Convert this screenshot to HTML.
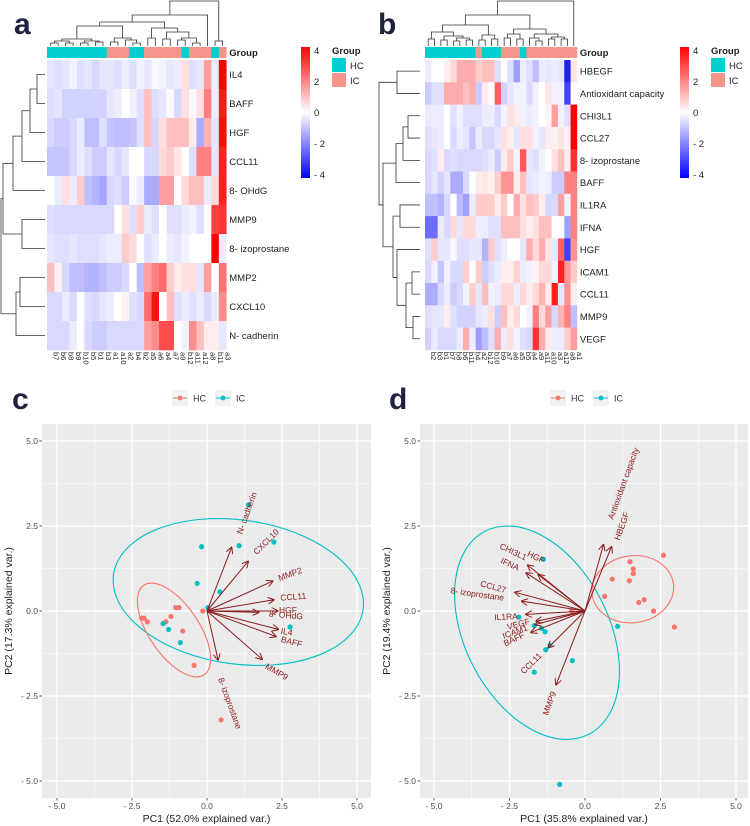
<!DOCTYPE html>
<html><head><meta charset="utf-8"><style>
html,body{margin:0;padding:0;background:#fff;}
svg{display:block;font-family:"Liberation Sans",Arial,sans-serif;}
</style></head><body>
<svg id="fig" width="750" height="826" viewBox="0 0 750 826" xmlns="http://www.w3.org/2000/svg">
<defs>
<marker id="arr" viewBox="0 0 10 10" refX="9" refY="5" markerWidth="7" markerHeight="7" orient="auto-start-reverse" markerUnits="userSpaceOnUse">
<path d="M0,0 L10,5 L0,10" fill="none" stroke="#8B1A1A" stroke-width="1.4"/></marker>
<linearGradient id="cbar" x1="0" y1="0" x2="0" y2="1">
<stop offset="0" stop-color="#ff0000"/><stop offset="0.5" stop-color="#ffffff"/><stop offset="1" stop-color="#0000ff"/></linearGradient>
</defs>
<g id="root"></g>
</svg>
<script>
// ---------- DATA ----------
const rowsA = ["IL4","BAFF","HGF","CCL11","8- OHdG","MMP9","8- izoprostane","MMP2","CXCL10","N- cadherin"];
const colsA = ["b7","b6","b8","b9","b10","b5","b1","b3","a1","a10","a2","b4","b2","a5","a6","a4","a7","a9","b12","a11","a12","a8","b11","a3"];
const groupA = ["HC","HC","HC","HC","HC","HC","HC","HC","IC","IC","IC","HC","HC","IC","IC","IC","IC","IC","HC","IC","IC","IC","HC","IC"];
const valsA = [
[-.4,-.5,-.4,-.2,-.5,-.4,-.6,-.4,-.4,-.5,-.3,-.5,-.2,-.4,-.1,-.2,-.4,-.3,.5,-.5,-.4,1.5,-.3,4],
[-.5,-.4,-.7,-.7,-.7,-.7,-.7,-.7,-.4,-.3,0,-.2,-.5,1,-.5,-.4,-.1,-.6,.5,-.1,.5,2,-.3,3.6],
[-.6,-.8,-.8,-.6,-.3,-1,-1,-.5,-.9,-1,-1,-.9,-.5,1,-.6,.5,1,1,1,.3,-1.3,1.2,-.4,3.8],
[-.9,-.9,-.9,-.6,-.3,-.5,-.8,-.8,-.4,-.6,-.4,0,0,-.6,-.6,.6,.8,.4,0,-.5,2,2,-.4,3.5],
[0,-.3,.5,-.3,.8,-1,-1.2,-1.4,-.6,-.5,-.8,-.1,-.3,-1.3,-1.3,1.5,1.5,0,.6,1,1,-.3,.6,3.5],
[-.5,-.6,-.6,-.6,-.6,-.6,-.6,-.6,-.6,0,.5,-.5,.8,-.3,-.5,0,-.5,-.5,-.3,-.2,-.5,0,3,3.2],
[-.4,-.5,-.5,-.4,-.5,-.5,-.5,-.4,-.3,-.3,.8,.6,0,-.5,-.3,0,-.3,-.4,-.2,0,0,0,4,-.3],
[1,.2,-.6,-1,-1,-1.2,-1.2,-1,-.8,-.8,-.6,0,-1,1.5,2,2.3,.8,.3,.5,.5,-.4,1.5,0,2.2],
[-.6,-.6,-.3,-.6,0,-.5,-.6,-.4,-.3,0,.2,-.5,-.6,2.3,3.7,0,1,-.5,-.3,-.5,-.3,-.6,-.3,1.8],
[-.6,-.6,-.6,-.3,0,-.6,-.8,-.8,-.6,-.6,-.6,-.6,-.6,1.5,1.8,2.8,2.8,0,-.2,1.8,1,.3,.3,-.4]];
const rowsB = ["HBEGF","Antioxidant capacity","CHI3L1","CCL27","8- izoprostane","BAFF","IL1RA","IFNA","HGF","ICAM1","CCL11","MMP9","VEGF"];
const colsB = ["b2","b3","b1","b7","b8","b6","b11","b4","a2","b12","b10","b9","a7","a6","a5","b5","a4","a9","a11","a10","a3","a12","a8","a1"];
const groupB = ["HC","HC","HC","HC","HC","HC","HC","HC","IC","HC","HC","HC","IC","IC","IC","HC","IC","IC","IC","IC","IC","IC","IC","IC"];
const valsB = [
[-.3,0,0,.3,.6,1.3,1.3,1.3,.8,1,1,-.5,0,-.5,-1.5,-.3,-.5,-1,-.3,-.4,-.3,-.4,-3.5,.4],
[-.8,-.5,-.5,1.3,1.3,1.3,1,1.3,-.8,.3,0,2.5,-.7,-.4,-.2,-.2,-.6,-.2,0,.4,-.2,-.2,-3,0],
[-.3,-.3,-.3,0,-.5,-.2,-.5,-.5,-.5,-.3,-.3,-.6,-.2,.5,.3,-.2,-.3,-.2,0,.2,1.5,-.2,-.5,4],
[-.5,-.4,-.3,0,-.6,-.3,-.4,-.9,-.3,-.6,-.6,-.4,.5,.3,-.4,.5,.5,-.2,-.4,.3,.2,.4,.2,4],
[-.6,-.5,.3,-.6,-.5,-.6,-.6,-.6,-.6,-.5,-.3,-.8,.3,.8,-.2,2.6,-.4,-.5,-.2,0,.5,1,.3,3.2],
[-.6,-.4,-.7,-.4,-1.3,-1.3,-.6,0,.3,.4,.2,.8,1.7,1.7,.3,1,-.4,-.3,-.2,-.3,-.8,-.8,2,2],
[-1,-1,-1.2,-.6,0,-1,-1.5,-.3,.8,.8,.8,.3,.8,0,1.3,.5,1,.8,.3,-.6,-.6,1.5,-.2,2],
[-2.3,-2.3,-.3,-.6,.6,-.4,.6,.6,-.3,-.3,-.5,-.5,1,1,1,.5,.3,.5,1,1,0,0,-1.5,2],
[-.5,.8,-.4,-.4,-.1,-.5,-.5,-.4,-.4,-1.2,.8,-.5,-.3,0,0,-.4,1.3,.6,1.3,.4,-.4,2.5,-3,1.7],
[-.6,-.2,-.9,-.2,-.6,-.6,.8,0,.8,-.8,-.5,-.3,.3,.3,.7,-.3,-.2,.2,.6,.6,-.2,3.5,1.6,.8],
[-1.3,-1.3,-.6,-.3,-.8,-.6,-.2,.8,-.4,1,-.2,-.3,.6,.6,-.3,.6,.3,.6,1.2,.3,3.5,-.4,1.7,.3],
[-.5,-.4,-.4,.3,-.5,-.7,-.7,-.7,-.4,-.3,.5,-.8,1,.3,.6,0,-.2,2,.6,1.5,-.6,1.2,2,-1],
[-.7,-.3,-.6,-.6,-.6,-.3,1.3,-.3,-1.5,-1,-.5,1.3,-.3,.5,-.2,-.5,-.6,3.2,1.3,.3,-.3,-.3,.8,1.5]];
const legendTicks = [4,2,0,-2,-4];
const pcaTicks = [-5,-2.5,0,2.5,5];
// PCA c
const cHCx = [-0.14,-1.04,-0.93,-1.2,-1.37,-1.46,-2.18,-2.1,-1.99,-0.81,-0.43,0.47];
const cHCy = [0,0.1,0.1,-0.16,-0.31,-0.37,-0.21,-0.21,-0.32,-0.59,-1.6,-3.2];
const cICx = [1.38,-0.18,1.07,2.23,-0.33,0.43,0.03,2.77,-1.46,-1.28,-0.89];
const cICy = [3.12,1.89,1.92,2.03,0.81,0.56,0.1,-0.47,-0.37,-0.54,-0.93];
const cVars = ["N- cadherin","CXCL10","MMP2","CCL11","HGF","8- OHdG","IL4","BAFF","MMP9","8- izoprostane"];
const cVarX = [0.82,1.37,2.19,2.23,2.36,1.72,2.38,2.3,1.84,0.37];
const cVarY = [1.87,1.46,0.88,0.33,0,-0.04,-0.54,-0.75,-1.42,-1.44];
// PCA d
const dHCx = [2.6,1.49,1.6,1.6,0.9,1.47,0.65,1.96,1.78,2.27,2.96,-0.44];
const dHCy = [1.64,1.45,1.24,1.1,0.94,0.89,0.43,0.33,0.25,0,-0.47,0];
const dICx = [-1.38,-2.19,-1.68,-1.44,-1.32,-1.16,-1.3,1.08,-0.42,-1.68,-0.84];
const dICy = [1.52,-0.18,-0.43,-0.51,-0.61,-1.01,-1.14,-0.45,-1.46,-1.8,-5.1];
const dVars = ["Antioxidant capacity","HBEGF","CHI3L1","IFNA","HGF","CCL27","8- izoprostane","IL1RA","VEGF","ICAM1","BAFF","CCL11","MMP9"];
const dVarX = [0.61,0.88,-1.9,-1.95,-1.55,-2.32,-2.1,-1.96,-1.62,-1.65,-1.79,-1.22,-0.96];
const dVarY = [1.95,1.89,1.35,1.12,1.07,0.55,0.29,-0.1,-0.3,-0.4,-0.63,-1.08,-2.17];

// ---------- HELPERS ----------
const NS="http://www.w3.org/2000/svg";
const root=document.getElementById('root');
function mk(tag,attrs,parent){const e=document.createElementNS(NS,tag);for(const k in attrs)e.setAttribute(k,attrs[k]);(parent||root).appendChild(e);return e;}
function txt(s,attrs,parent){const e=mk('text',attrs,parent);e.textContent=s;return e;}
function heat(v){const t=Math.min(1,Math.abs(v)/4);const c=Math.round(255*(1-t));return v>=0?`rgb(255,${c},${c})`:`rgb(${c},${c},255)`;}
const GC={HC:"#00CED1",IC:"#F4948A"};

function heatmap(cfg){
  const {x0,y0,cw,rh,rows,cols,groups,vals,name}=cfg;
  const g=mk('g',{});
  
  
  groups.forEach((gr,i)=>{const r=mk('rect',{x:x0+i*cw,y:y0-13,width:cw+0.3,height:11,fill:GC[gr]},g);
    
    });
  const gt=txt('Group',{x:x0+cols.length*cw+3,y:y0-4,'font-size':9.5,'font-weight':'bold',fill:'#222'},g);
  
  
  vals.forEach((row,r)=>row.forEach((v,c)=>{const e=mk('rect',{x:x0+c*cw,y:y0+r*rh,width:cw+0.3,height:rh+0.3,fill:heat(v)},g);
    
    }));
  rows.forEach((s,r)=>{const e=txt(s,{x:x0+cols.length*cw+3,y:y0+r*rh+rh/2+3.5,'font-size':9.5,fill:'#222'},g);
    
    });
  cols.forEach((s,c)=>{const cx=x0+c*cw+cw/2+3;const yy=y0+rows.length*rh+2;
    const e=txt(s,{x:cx,y:yy,'font-size':7.5,fill:'#222',transform:`rotate(90 ${cx} ${yy})`},g);
    
    });
}
// tree: nodes [left,right,h] ; leaves numbers
function tree(node,pos,hpos,horizontal,g,leafH){
  if(typeof node==='number') return {p:pos(node),h:leafH};
  const a=tree(node[0],pos,hpos,horizontal,g,leafH), b=tree(node[1],pos,hpos,horizontal,g,leafH);
  const h=hpos(node[2]);
  let d;
  if(!horizontal) d=`M${a.p},${a.h} V${h} H${b.p} V${b.h}`;
  else d=`M${a.h},${a.p} H${h} V${b.p} H${b.h}`;
  mk('path',{d,fill:'none',stroke:'#333','stroke-width':0.8},g);
  return {p:(a.p+b.p)/2,h};
}
function colorbar(x,y,name){
  const g=mk('g',{});
  
  
  mk('rect',{x,y,width:9,height:131,fill:'url(#cbar)'},g);
  legendTicks.forEach(t=>{const yy=y+65.5-t*15.5;
    txt(t<0?'- '+(-t):String(t),{x:x+13,y:yy+3.5,'font-size':9.5,fill:'#222'},g);});
  const lx=x+31;
  txt('Group',{x:lx,y:y+7,'font-size':9.5,'font-weight':'bold',fill:'#222'},g);
  mk('rect',{x:lx,y:y+11,width:14,height:14,fill:GC.HC},g);
  mk('rect',{x:lx,y:y+26,width:14,height:14,fill:GC.IC},g);
  txt('HC',{x:lx+18,y:y+22,'font-size':9.5,fill:'#222'},g);
  txt('IC',{x:lx+18,y:y+37,'font-size':9.5,fill:'#222'},g);
}
function panelLetter(s,x,y){const e=txt(s,{x,y,'font-size':30,'font-weight':'bold',fill:'#1f2340'});
  
  }

// ---------- PANEL A ----------
panelLetter('a',14,34);
heatmap({x0:47,y0:60,cw:7.47,rh:29,rows:rowsA,cols:colsA,groups:groupA,vals:valsA,name:'heatmap-a'});
{const g=mk('g',{});
 const L1=[[[[0,1,42],[2,3,42],40],[[4,5,42],[6,7,41],40],38],[[8,9,41],[10,[11,12,42],39],37],25];
 const R1=[[13,14,37],[[15,16,38],[[17,18,39],[19,20,42],37],31],27];
 const T=[[[L1,R1,21],21,14],[22,23,40],0];
 tree(T,i=>47+i*7.47+3.7,h=>h+1,false,g,46);}
{const g=mk('g',{});
 const T=[[[[[[0,1,37],2,30],3,22],4,13],[5,6,22],3],[[7,8,20],9,16],1];
 tree(T,i=>60+i*29+14.5,h=>h,true,g,45);}
colorbar(301,47,'color-legend-a');

// ---------- PANEL B ----------
panelLetter('b',378,34);
heatmap({x0:425,y0:60,cw:6.33,rh:22.3,rows:rowsB,cols:colsB,groups:groupB,vals:valsB,name:'heatmap-b'});
{const g=mk('g',{});
 const L=[[[0,1,38],[[2,3,39],[[4,5,40],[6,7,39],37],35],31],[[8,9,39],[10,11,38],34],24];
 const R=[[[12,13,37],[14,15,38],33],[[16,[17,18,40],37],[[19,20,38],[21,22,38],36],33],28];
 const T=[[L,R,14],23,0];
 tree(T,i=>425+i*6.33+3.2,h=>h+1,false,g,46);}
{const g=mk('g',{});
 const T=[[0,1,22],[[[[2,3,33],4,28],5,21],[[[6,7,25],[8,[9,[10,[11,12,38],31],27],22],18],[]],4],1];
 // simplify: replace empty with structure
 const T2=[[0,1,22],[[[[2,3,33],4,28],5,21],[[6,7,25],[8,[[9,10,37],[11,12,38],31],22],18],8],4];
 tree(T2,i=>60+i*22.3+11.15,h=>375+h,true,g,420);}
colorbar(680,47,'color-legend-b');

// ---------- PCA ----------
function pca(cfg){
  const {name,left,right,x0,ux,xtitle,ytitle,hcx,hcy,icx,icy,vars,vx,vy,labels,ellipses,legendX,letter,letterX}=cfg;
  const top=424,bottom=798,y0=611,uy=34;
  const sx=v=>x0+ux*v, sy=v=>y0-uy*v;
  panelLetter(letter,letterX,409);
  const g=mk('g',{});
  
  
  mk('rect',{x:left,y:top,width:right-left,height:bottom-top,fill:'#EBEBEB'},g);
  const minor=[-6.25,-3.75,-1.25,1.25,3.75,6.25];
  minor.forEach(v=>{if(sx(v)>left&&sx(v)<right)mk('line',{x1:sx(v),x2:sx(v),y1:top,y2:bottom,stroke:'#fff','stroke-width':0.6},g);
    if(sy(v)>top&&sy(v)<bottom)mk('line',{y1:sy(v),y2:sy(v),x1:left,x2:right,stroke:'#fff','stroke-width':0.6},g);});
  pcaTicks.forEach(v=>{mk('line',{x1:sx(v),x2:sx(v),y1:top,y2:bottom,stroke:'#fff','stroke-width':1.2},g);
    mk('line',{y1:sy(v),y2:sy(v),x1:left,x2:right,stroke:'#fff','stroke-width':1.2},g);
    const lab=v.toFixed(1).replace('-','- ');
    const tx=txt(lab,{x:sx(v),y:bottom+11,'font-size':8.5,'text-anchor':'middle',fill:'#4d4d4d'},g);
    
    
    const ty=txt(lab,{x:left-4,y:sy(v)+3,'font-size':8.5,'text-anchor':'end',fill:'#4d4d4d'},g);
    
    
    mk('line',{x1:left-2.5,x2:left,y1:sy(v),y2:sy(v),stroke:'#333','stroke-width':0.8},g);
    mk('line',{x1:sx(v),x2:sx(v),y1:bottom,y2:bottom+2.5,stroke:'#333','stroke-width':0.8},g);});
  const xt=txt(xtitle,{x:(left+right)/2,y:822,'font-size':10.5,'text-anchor':'middle',fill:'#222'},g);
  
  
  const yx=left-30;
  const yt=txt(ytitle,{x:yx,y:y0,'font-size':10.5,'text-anchor':'middle',fill:'#222',transform:`rotate(-90 ${yx} ${y0})`},g);
  
  
  ellipses.forEach(e=>{const el=mk('ellipse',{cx:e.cx,cy:e.cy,rx:e.rx,ry:e.ry,transform:`rotate(${e.a} ${e.cx} ${e.cy})`,fill:'none',stroke:e.c,'stroke-width':1.1},g);
    
    });
  hcx.forEach((v,i)=>{const p=mk('circle',{cx:sx(v),cy:sy(hcy[i]),r:2.6,fill:'#F8766D'},g);
    
    });
  icx.forEach((v,i)=>{const p=mk('circle',{cx:sx(v),cy:sy(icy[i]),r:2.6,fill:'#00BFC4'},g);
    
    });
  vx.forEach((v,i)=>{const a=mk('line',{x1:sx(0),y1:sy(0),x2:sx(v),y2:sy(vy[i]),stroke:'#8B1A1A','stroke-width':1,'marker-end':'url(#arr)'},g);
    
    });
  labels.forEach((l,i)=>{const t=txt(vars[i],{x:l[0],y:l[1]+3,'font-size':8.5,'text-anchor':'middle',fill:'#8B1A1A',transform:`rotate(${l[2]} ${l[0]} ${l[1]})`},g);
    
    });
  // legend
  const lg=mk('g',{});
  
  
  const ly=398;
  [['HC','#F8766D',legendX],['IC','#00BFC4',legendX+43]].forEach(d=>{
    mk('rect',{x:d[2],y:ly-8,width:16,height:16,fill:'#F2F2F2'},lg);
    mk('line',{x1:d[2]+1,x2:d[2]+15,y1:ly,y2:ly,stroke:d[1],'stroke-width':1},lg);
    mk('circle',{cx:d[2]+8,cy:ly,r:2.4,fill:d[1]},lg);
    txt(d[0],{x:d[2]+21,y:ly+3.5,'font-size':9,fill:'#333'},lg);});
}
pca({name:'pca-biplot-c',left:42,right:371,x0:207,ux:30,letter:'c',letterX:12,legendX:172,
 xtitle:'PC1 (52.0% explained var.)',ytitle:'PC2 (17.3% explained var.)',
 hcx:cHCx,hcy:cHCy,icx:cICx,icy:cICy,vars:cVars,vx:cVarX,vy:cVarY,
 labels:[[246.7,513,-70],[266,541.7,-45],[290,574,-20],[293.3,596.7,-5],[288,610,0],[286,615,5],[286.7,631.7,10],[291.7,641.7,15],[276.7,671.7,30],[230,703.3,70]],
 ellipses:[{cx:238.3,cy:592,rx:126,ry:72,a:8,c:'#00BFC4',n:'ellipse-ic'},{cx:174,cy:630,rx:54,ry:25,a:56,c:'#F8766D',n:'ellipse-hc'}]});
pca({name:'pca-biplot-d',left:420,right:748,x0:585,ux:30.2,letter:'d',letterX:389,legendX:550,
 xtitle:'PC1 (35.8% explained var.)',ytitle:'PC2 (19.4% explained var.)',
 hcx:dHCx,hcy:dHCy,icx:dICx,icy:dICy,vars:dVars,vx:dVarX,vy:dVarY,
 labels:[[623.3,483.3,-70],[621.7,526,-70],[513.3,551.7,25],[510,564,25],[536,557,25],[493.3,586.7,15],[477.3,594,8],[506,616.7,-3],[518.3,624,-15],[515,631.7,-20],[514,639,-25],[531,663.3,-45],[549.3,703.3,-70]],
 ellipses:[{cx:537,cy:632.7,rx:114,ry:72,a:63,c:'#00BFC4',n:'ellipse-ic'},{cx:632.8,cy:589.2,rx:41,ry:33.5,a:-8,c:'#F8766D',n:'ellipse-hc'}]});
</script>
</body></html>
